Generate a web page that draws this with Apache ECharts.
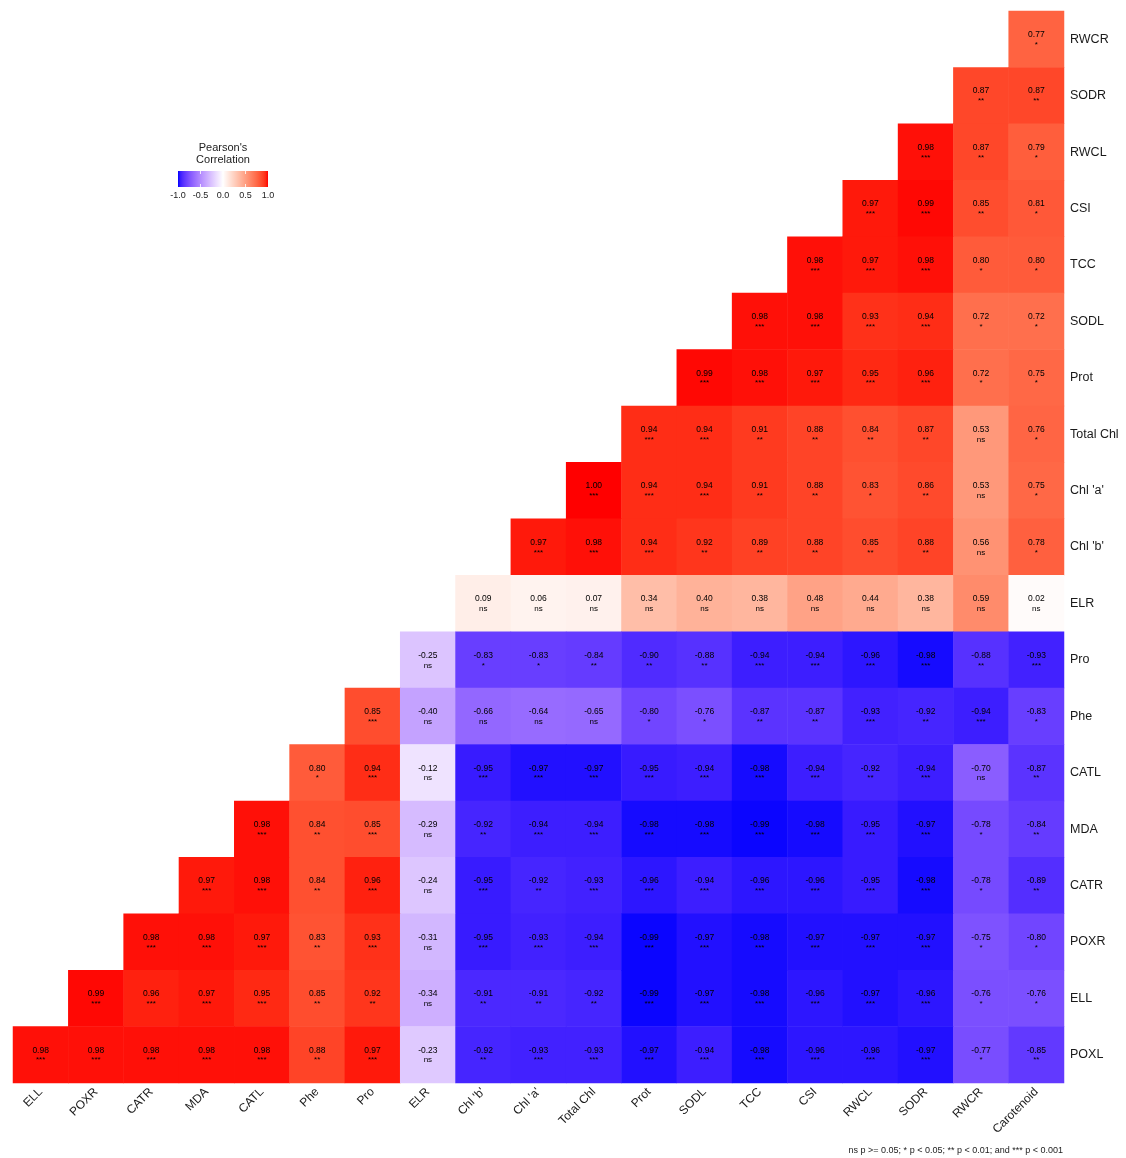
<!DOCTYPE html>
<html><head><meta charset="utf-8">
<script src="https://cdn.jsdelivr.net/npm/echarts@6/dist/echarts.min.js"></script>
<style>html,body{margin:0;padding:0;background:#fff}#c{width:1126px;height:1158px}</style>
</head><body><div id="c"></div>
<script>
// Column categories (left to right)
const xCats = ["ELL","POXR","CATR","MDA","CATL","Phe","Pro","ELR","Chl 'b'","Chl 'a'","Total Chl","Prot","SODL","TCC","CSI","RWCL","SODR","RWCR","Carotenoid"];
// Row categories (top to bottom)
const yCatsTopDown = ["RWCR","SODR","RWCL","CSI","TCC","SODL","Prot","Total Chl","Chl 'a'","Chl 'b'","ELR","Pro","Phe","CATL","MDA","CATR","POXR","ELL","POXL"];

// Each row: values from its first filled column to Carotenoid (left to right)
const v_RWCR = [0.77];
const s_RWCR = ['*'];
const v_SODR = [0.87,0.87];
const s_SODR = ['**','**'];
const v_RWCL = [0.98,0.87,0.79];
const s_RWCL = ['***','**','*'];
const v_CSI = [0.97,0.99,0.85,0.81];
const s_CSI = ['***','***','**','*'];
const v_TCC = [0.98,0.97,0.98,0.80,0.80];
const s_TCC = ['***','***','***','*','*'];
const v_SODL = [0.98,0.98,0.93,0.94,0.72,0.72];
const s_SODL = ['***','***','***','***','*','*'];
const v_Prot = [0.99,0.98,0.97,0.95,0.96,0.72,0.75];
const s_Prot = ['***','***','***','***','***','*','*'];
const v_TotalChl = [0.94,0.94,0.91,0.88,0.84,0.87,0.53,0.76];
const s_TotalChl = ['***','***','**','**','**','**','ns','*'];
const v_ChlA = [1.00,0.94,0.94,0.91,0.88,0.83,0.86,0.53,0.75];
const s_ChlA = ['***','***','***','**','**','*','**','ns','*'];
const v_ChlB = [0.97,0.98,0.94,0.92,0.89,0.88,0.85,0.88,0.56,0.78];
const s_ChlB = ['***','***','***','**','**','**','**','**','ns','*'];
const v_ELR = [0.09,0.06,0.07,0.34,0.40,0.38,0.48,0.44,0.38,0.59,0.02];
const s_ELR = ['ns','ns','ns','ns','ns','ns','ns','ns','ns','ns','ns'];
const v_Pro = [-0.25,-0.83,-0.83,-0.84,-0.90,-0.88,-0.94,-0.94,-0.96,-0.98,-0.88,-0.93];
const s_Pro = ['ns','*','*','**','**','**','***','***','***','***','**','***'];
const v_Phe = [0.85,-0.40,-0.66,-0.64,-0.65,-0.80,-0.76,-0.87,-0.87,-0.93,-0.92,-0.94,-0.83];
const s_Phe = ['***','ns','ns','ns','ns','*','*','**','**','***','**','***','*'];
const v_CATL = [0.80,0.94,-0.12,-0.95,-0.97,-0.97,-0.95,-0.94,-0.98,-0.94,-0.92,-0.94,-0.70,-0.87];
const s_CATL = ['*','***','ns','***','***','***','***','***','***','***','**','***','ns','**'];
const v_MDA = [0.98,0.84,0.85,-0.29,-0.92,-0.94,-0.94,-0.98,-0.98,-0.99,-0.98,-0.95,-0.97,-0.78,-0.84];
const s_MDA = ['***','**','***','ns','**','***','***','***','***','***','***','***','***','*','**'];
const v_CATR = [0.97,0.98,0.84,0.96,-0.24,-0.95,-0.92,-0.93,-0.96,-0.94,-0.96,-0.96,-0.95,-0.98,-0.78,-0.89];
const s_CATR = ['***','***','**','***','ns','***','**','***','***','***','***','***','***','***','*','**'];
const v_POXR = [0.98,0.98,0.97,0.83,0.93,-0.31,-0.95,-0.93,-0.94,-0.99,-0.97,-0.98,-0.97,-0.97,-0.97,-0.75,-0.80];
const s_POXR = ['***','***','***','**','***','ns','***','***','***','***','***','***','***','***','***','*','*'];
const v_ELL = [0.99,0.96,0.97,0.95,0.85,0.92,-0.34,-0.91,-0.91,-0.92,-0.99,-0.97,-0.98,-0.96,-0.97,-0.96,-0.76,-0.76];
const s_ELL = ['***','***','***','***','**','**','ns','**','**','**','***','***','***','***','***','***','*','*'];
const v_POXL = [0.98,0.98,0.98,0.98,0.98,0.88,0.97,-0.23,-0.92,-0.93,-0.93,-0.97,-0.94,-0.98,-0.96,-0.96,-0.97,-0.77,-0.85];
const s_POXL = ['***','***','***','***','***','**','***','ns','**','***','***','***','***','***','***','***','***','*','**'];

const legendTicks = [-1.0,-0.5,0.0,0.5,1.0];
const footnote = "ns p >= 0.05; * p < 0.05; ** p < 0.01; and *** p < 0.001";

const rowsTopDown = [
  [v_RWCR,s_RWCR],[v_SODR,s_SODR],[v_RWCL,s_RWCL],[v_CSI,s_CSI],[v_TCC,s_TCC],
  [v_SODL,s_SODL],[v_Prot,s_Prot],[v_TotalChl,s_TotalChl],[v_ChlA,s_ChlA],[v_ChlB,s_ChlB],
  [v_ELR,s_ELR],[v_Pro,s_Pro],[v_Phe,s_Phe],[v_CATL,s_CATL],[v_MDA,s_MDA],
  [v_CATR,s_CATR],[v_POXR,s_POXR],[v_ELL,s_ELL],[v_POXL,s_POXL]
];

// ---- Lab colour interpolation (blue - white - red) ----
function toLin(c){c/=255;return c<=0.04045?c/12.92:Math.pow((c+0.055)/1.055,2.4);}
function fromLin(c){const v=c<=0.0031308?12.92*c:1.055*Math.pow(c,1/2.4)-0.055;return Math.max(0,Math.min(255,Math.round(v*255)));}
function rgb2lab(r,g,b){r=toLin(r);g=toLin(g);b=toLin(b);
  let x=(0.4124*r+0.3576*g+0.1805*b)/0.95047,y=(0.2126*r+0.7152*g+0.0722*b),z=(0.0193*r+0.1192*g+0.9505*b)/1.08883;
  const f=t=>t>0.008856?Math.cbrt(t):7.787*t+16/116;
  x=f(x);y=f(y);z=f(z);return [116*y-16,500*(x-y),200*(y-z)];}
function lab2rgb(L,a,b){let y=(L+16)/116,x=a/500+y,z=y-b/200;
  const fi=t=>t*t*t>0.008856?t*t*t:(t-16/116)/7.787;
  x=fi(x)*0.95047;y=fi(y);z=fi(z)*1.08883;
  const r=3.2406*x-1.5372*y-0.4986*z,g=-0.9689*x+1.8758*y+0.0415*z,bb=0.0557*x-0.2040*y+1.0570*z;
  return [fromLin(r),fromLin(g),fromLin(bb)];}
const LB=rgb2lab(0,0,255),LW=rgb2lab(255,255,255),LR=rgb2lab(255,0,0);
function colorAt(v){const A=v<0?LB:LR,t=Math.abs(v);
  const L=LW[0]+(A[0]-LW[0])*t,a=LW[1]+(A[1]-LW[1])*t,b=LW[2]+(A[2]-LW[2])*t;
  const c=lab2rgb(L,a,b);return 'rgb('+c[0]+','+c[1]+','+c[2]+')';}
const stops=[];for(let i=0;i<=40;i++){stops.push(colorAt(-1+i*0.05));}

const yCats = yCatsTopDown.slice().reverse();
const data=[];
rowsTopDown.forEach((rw,r)=>{
  const vals=rw[0],stars=rw[1],n=vals.length,start=xCats.length-n;
  const yi=yCats.indexOf(yCatsTopDown[r]);
  vals.forEach((v,k)=>{data.push({value:[start+k,yi,v],star:stars[k]});});
});

const FONT='"Liberation Sans", Arial, sans-serif';
const chart=echarts.init(document.getElementById('c'),null,{renderer:'canvas'});
const gx=178,gw=90,gy=171,gh=16;
const graphics=[
  {type:'text',style:{text:"Pearson's\nCorrelation",x:223,y:142,fill:'#222',font:'11px '+FONT,textAlign:'center',lineHeight:12}},
  {type:'rect',shape:{x:gx,y:gy,width:gw,height:gh},style:{fill:new echarts.graphic.LinearGradient(0,0,1,0,stops.map((c,i)=>({offset:i/(stops.length-1),color:c})))}},
  {type:'text',style:{text:footnote,x:1063,y:1146,fill:'#222',font:'9px '+FONT,textAlign:'right'}}
];
legendTicks.forEach(t=>{
  const px=gx+(t+1)/2*gw;
  graphics.push({type:'text',style:{text:t.toFixed(1),x:px,y:191,fill:'#222',font:'9px '+FONT,textAlign:'center'}});
  if(t>-1&&t<1){graphics.push({type:'line',shape:{x1:px,y1:gy,x2:px,y2:gy+3},style:{stroke:'rgba(255,255,255,0.8)',lineWidth:1}});
    graphics.push({type:'line',shape:{x1:px,y1:gy+gh-3,x2:px,y2:gy+gh},style:{stroke:'rgba(255,255,255,0.8)',lineWidth:1}});}
});

chart.setOption({
  animation:false,
  backgroundColor:'#ffffff',
  grid:{left:13,right:62,top:11,bottom:75,containLabel:false},
  xAxis:{type:'category',data:xCats,splitArea:{show:false},axisLine:{show:false},
    axisTick:{show:false},
    axisLabel:{rotate:45,fontSize:12,color:'#1a1a1a',fontFamily:FONT,margin:7,padding:[9,0,0,0],interval:0}},
  yAxis:{type:'category',data:yCats,position:'right',axisLine:{show:false},
    axisTick:{show:false},
    axisLabel:{fontSize:12.5,color:'#1a1a1a',fontFamily:FONT,margin:6,interval:0}},
  visualMap:{show:false,min:-1,max:1,dimension:2,calculable:false,inRange:{color:stops}},
  graphic:graphics,
  series:[{type:'heatmap',data:data,
    itemStyle:{borderWidth:0},
    emphasis:{disabled:true},
    label:{show:true,color:'#000',fontFamily:FONT,
      formatter:p=>'{v|'+p.value[2].toFixed(2)+'}\n{s|'+p.data.star+'}',
      rich:{v:{fontSize:8.5,lineHeight:11,fontFamily:FONT,color:'#000'},s:{fontSize:8,lineHeight:9,fontFamily:FONT,color:'#000'}}}
  }]
});
</script></body></html>
